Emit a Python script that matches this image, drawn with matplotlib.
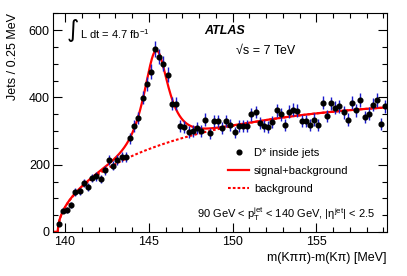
import numpy as np
import matplotlib
matplotlib.use('Agg')
import matplotlib.pyplot as plt
from matplotlib.lines import Line2D
from matplotlib.ticker import MultipleLocator

plt.rcParams['font.family'] = ['Liberation Sans', 'DejaVu Sans']
plt.rcParams['mathtext.fontset'] = 'custom'
plt.rcParams['mathtext.rm'] = 'Liberation Sans'
plt.rcParams['mathtext.it'] = 'Liberation Sans:italic'
plt.rcParams['mathtext.bf'] = 'Liberation Sans:bold'

# ---- data: D* candidates per 0.25 MeV bin ----
bin_low = 139.5
bin_width = 0.25
counts = np.array([
    24, 63, 66, 79, 119, 121, 146, 134, 161, 165,
    157, 183, 214, 197, 215, 224, 224, 278, 315, 338,
    399, 440, 477, 543, 521, 500, 468, 381, 381, 316,
    313, 298, 301, 308, 301, 334, 293, 331, 331, 309,
    330, 318, 296, 316, 316, 316, 350, 357, 323, 316,
    313, 328, 362, 350, 319, 358, 363, 361, 330, 330,
    317, 334, 317, 384, 345, 382, 370, 373, 356, 334,
    384, 362, 392, 342, 352, 378, 392, 320, 374])
centers = bin_low + bin_width * (np.arange(len(counts)) + 0.5)
errors = np.sqrt(counts)

# ---- fit parameters (background: threshold power law x exp; signal: modified Gaussian) ----
m_pi = 139.57
bg_norm = 114.0
bg_power = 0.512
bg_slope = 0.01764
sig_norm = 285.0
sig_mean = 145.43
sig_width = 0.70

x_min, x_max = 139.3, 159.2
y_min, y_max = 0, 650

xs = np.linspace(x_min, x_max, 3000)
dx = np.clip(xs - m_pi, 0, None)
background = np.where(xs > m_pi, bg_norm * dx**bg_power * np.exp(-bg_slope * dx), 0.0)
u = np.abs(xs - sig_mean) / sig_width
signal = sig_norm * np.exp(-0.5 * u**(1 + 1 / (1 + 0.5 * u)))
total = background + signal

fig = plt.figure(figsize=(4.07, 2.76), dpi=100)
ax = fig.add_axes([53.3/407, 44/276, 333.4/407, 218.7/276])

ax.plot(xs, background, color='red', lw=1.5, ls=(0, (1.3, 1.0)), zorder=2)
ax.plot(xs, total, color='red', lw=1.6, zorder=2.5)
ax.errorbar(centers, counts, yerr=errors, fmt='o', color='black', ecolor='#1a1acc',
            elinewidth=1.0, markersize=3.4, capsize=0, zorder=3)

ax.set_xlim(x_min, x_max)
ax.set_ylim(y_min, y_max)
ax.xaxis.set_major_locator(MultipleLocator(5))
ax.xaxis.set_minor_locator(MultipleLocator(1))
ax.yaxis.set_major_locator(MultipleLocator(200))
ax.yaxis.set_minor_locator(MultipleLocator(50))
ax.tick_params(which='both', direction='in', top=True, right=True, labelsize=9, width=0.8)
ax.tick_params(which='major', length=6.5)
ax.tick_params(which='minor', length=3.5)
ax.tick_params(axis='y', pad=2.5)
ax.tick_params(axis='x', pad=3)
for s in ax.spines.values():
    s.set_linewidth(0.8)

ax.set_ylabel('Jets / 0.25 MeV', fontsize=9, loc='top')
ax.yaxis.set_label_coords(-0.103, 1.0)
ax.set_xlabel('m(Kππ)-m(Kπ) [MeV]', fontsize=9, loc='right')
ax.xaxis.set_label_coords(1.0, -0.09)

def F(px, py):
    return px / 407, 1 - py / 276

fig.text(*F(67, 30), '∫', fontsize=17, family=['DejaVu Sans'], va='center', ha='left')
fig.text(*F(80, 34), 'L dt = 4.7 fb$^{-1}$', fontsize=8, va='center', ha='left')
fig.text(*F(204, 30.7), 'ATLAS', fontsize=9, weight='bold', style='italic', va='center', ha='left')
fig.text(*F(236, 51), '√s = 7 TeV', fontsize=9, va='center', ha='left')
fig.text(*F(197, 214), '90 GeV < p$_{\\rm T}^{\\rm jet}$ < 140 GeV, |η$^{\\rm jet}$| < 2.5',
         fontsize=8, va='center', ha='left')

handles = [
    Line2D([], [], ls='none', marker='o', color='black', markersize=3.4),
    Line2D([], [], color='red', lw=1.6),
    Line2D([], [], color='red', lw=1.5, ls=(0, (1.3, 1.0))),
]
labels = ['D* inside jets', 'signal+background', 'background']
ax.legend(handles, labels, loc='upper left', bbox_to_anchor=F(228, 148),
          bbox_transform=fig.transFigure, frameon=False, fontsize=8,
          borderpad=0, borderaxespad=0, handlelength=1.9, handletextpad=0.45,
          labelspacing=0.72)

fig.savefig('out.png', dpi=100)
